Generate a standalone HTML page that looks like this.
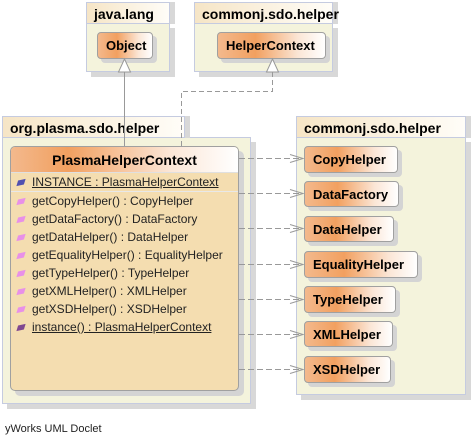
<!DOCTYPE html>
<html><head><style>
body{margin:0;width:473px;height:446px;background:#fff;position:relative;font-family:"Liberation Sans",sans-serif;overflow:hidden}
.a{position:absolute;box-sizing:border-box}
.pk{background:#f4f3dc;border:1px solid #c5cbe0;box-shadow:5px 5px 0 #d8d8d8}
.hd{background:linear-gradient(90deg,#f6e5c6,#fffdf8);border:1px solid #c5cbe0;font-weight:bold;font-size:14px;padding:3px 0 0 7px;box-shadow:5px 0 0 #d8d8d8}
.nd{background:linear-gradient(90deg,#f3b98d,#f2a060 35%,#fbe6d6 75%,#fff);border:1px solid #a0a0a0;border-radius:4px;font-weight:bold;font-size:13px;padding:5px 0 0 8px;box-shadow:4px 4px 0 #d4d4d4;white-space:nowrap}
.m{position:absolute;left:6px;font-size:12px;color:#222;white-space:nowrap}
.m i{display:inline-block;width:8px;height:5px;background:#e890e8;transform:skewY(-30deg) rotate(20deg);margin-right:7px;vertical-align:1px}
</style></head><body>
<div class="a pk" style="left:86px;top:23px;width:84px;height:49px"></div>
<div class="a hd" style="left:86px;top:2px;width:84px;height:22px">java.lang</div>
<div class="a nd" style="left:97px;top:32px;width:56px;height:27px">Object</div>

<div class="a pk" style="left:194px;top:23px;width:139px;height:49px"></div>
<div class="a hd" style="left:194px;top:2px;width:139px;height:22px">commonj.sdo.helper</div>
<div class="a nd" style="left:217px;top:32px;width:109px;height:27px">HelperContext</div>

<div class="a pk" style="left:2px;top:137px;width:249px;height:267px"></div>
<div class="a hd" style="left:2px;top:116px;width:183px;height:22px">org.plasma.sdo.helper</div>
<div class="a" style="left:10px;top:146px;width:229px;height:245px;background:#f4ddb0;border:1px solid #a0a0a0;border-radius:5px;box-shadow:5px 5px 0 #d4d4d4;overflow:hidden">
 <div style="height:25px;background:linear-gradient(90deg,#f3b98d,#f2a060 25%,#fbe6d6 70%,#fff);text-align:center;font-weight:bold;font-size:14px;line-height:26px;border-bottom:1px solid #e0e0e0">PlasmaHelperContext</div>
 <div style="height:18px;border-bottom:1px solid #e8e8e8;position:relative"><span class="m" style="top:2px"><i style="background:#5050b0"></i><u>INSTANCE : PlasmaHelperContext</u></span></div>
 <div style="position:relative">
  <span class="m" style="top:2px"><i></i>getCopyHelper() : CopyHelper</span>
  <span class="m" style="top:20px"><i></i>getDataFactory() : DataFactory</span>
  <span class="m" style="top:38px"><i></i>getDataHelper() : DataHelper</span>
  <span class="m" style="top:56px"><i></i>getEqualityHelper() : EqualityHelper</span>
  <span class="m" style="top:74px"><i></i>getTypeHelper() : TypeHelper</span>
  <span class="m" style="top:92px"><i></i>getXMLHelper() : XMLHelper</span>
  <span class="m" style="top:110px"><i></i>getXSDHelper() : XSDHelper</span>
  <span class="m" style="top:128px"><i style="background:#804890"></i><u>instance() : PlasmaHelperContext</u></span>
 </div>
</div>

<div class="a pk" style="left:296px;top:137px;width:170px;height:258px"></div>
<div class="a hd" style="left:296px;top:116px;width:170px;height:22px">commonj.sdo.helper</div>
<div class="a nd" style="left:304px;top:146px;width:94px;height:27px">CopyHelper</div>
<div class="a nd" style="left:304px;top:181px;width:95px;height:26px">DataFactory</div>
<div class="a nd" style="left:304px;top:216px;width:90px;height:26px">DataHelper</div>
<div class="a nd" style="left:304px;top:251px;width:114px;height:27px">EqualityHelper</div>
<div class="a nd" style="left:304px;top:286px;width:92px;height:27px">TypeHelper</div>
<div class="a nd" style="left:304px;top:321px;width:89px;height:26px">XMLHelper</div>
<div class="a nd" style="left:304px;top:356px;width:87px;height:27px">XSDHelper</div>

<svg class="a" style="left:0;top:0" width="473" height="446">
<g stroke="#999" fill="none">
<line x1="124.5" y1="146" x2="124.5" y2="72"/>
<polygon points="124.5,59 118.5,72 130.5,72" fill="#fff"/>
<polyline points="181.5,146 181.5,91.5 272.5,91.5 272.5,72" stroke-dasharray="5,3"/>
<polygon points="272.5,59 266.5,72 278.5,72" fill="#fff"/>
<g stroke-dasharray="6,3">
<line x1="239" y1="158.5" x2="303" y2="158.5"/><line x1="239" y1="193.5" x2="303" y2="193.5"/>
<line x1="239" y1="228.5" x2="303" y2="228.5"/><line x1="239" y1="264.5" x2="303" y2="264.5"/>
<line x1="239" y1="299.5" x2="303" y2="299.5"/><line x1="239" y1="334.5" x2="303" y2="334.5"/>
<line x1="239" y1="369.5" x2="303" y2="369.5"/></g>
<path d="M290 154.5l13 4-13 4M290 189.5l13 4-13 4M290 224.5l13 4-13 4M290 260.5l13 4-13 4M290 295.5l13 4-13 4M290 330.5l13 4-13 4M290 365.5l13 4-13 4"/>
</g></svg>
<div class="a" style="left:5px;top:423px;font-size:11px;color:#222">yWorks UML Doclet</div>
</body></html>
